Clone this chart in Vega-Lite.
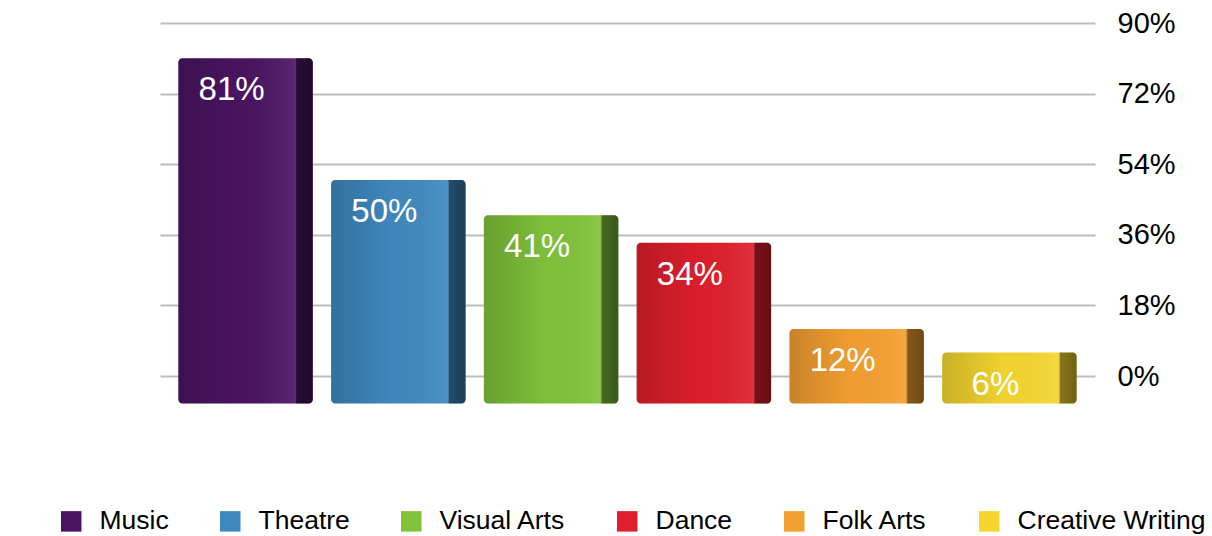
{
  "$schema": "https://vega.github.io/schema/vega-lite/v6.json",
  "autosize": {"type": "none"},
  "padding": {"left": 160, "top": 23, "right": 117, "bottom": 132.5},
  "width": 935,
  "height": 380.5,
  "background": "white",
  "config": {"view": {"stroke": null}, "font": "Liberation Sans"},
  "data": {"values": [
    {"category": "Music", "value": 81},
    {"category": "Theatre", "value": 50},
    {"category": "Visual Arts", "value": 41},
    {"category": "Dance", "value": 34},
    {"category": "Folk Arts", "value": 12},
    {"category": "Creative Writing", "value": 6}
  ]},
  "encoding": {
    "x": {"field": "category", "type": "nominal", "sort": null,
          "scale": {"paddingInner": 0.12, "paddingOuter": 0.12}, "axis": null},
    "y": {"field": "value", "type": "quantitative",
          "scale": {"domain": [-7, 90], "nice": false, "zero": false},
          "axis": {"orient": "right", "values": [0, 18, 36, 54, 72, 90],
                   "labelExpr": "datum.value + '%'", "labelFontSize": 29,
                   "labelColor": "#000000", "labelPadding": 22, "ticks": false,
                   "domain": false, "title": null, "grid": true,
                   "gridColor": "#bdbdbd", "gridWidth": 2, "labelFont": "Liberation Sans"}}
  },
  "layer": [
    {
      "mark": {"type": "bar", "cornerRadiusEnd": 4},
      "encoding": {
        "y2": {"datum": -7},
        "color": {"field": "category", "type": "nominal", "sort": null,
                  "scale": {"domain": ["Music", "Theatre", "Visual Arts", "Dance", "Folk Arts", "Creative Writing"],
                            "range": ["#4a1462", "#3f89c0", "#80c23a", "#de1f2c", "#f4a031", "#f5d62f"]},
                  "legend": {"orient": "none", "legendX": -102, "legendY": 485,
                             "direction": "horizontal", "title": null,
                             "symbolType": "square", "symbolSize": 420, "symbolStrokeWidth": 0,
                             "labelFontSize": 26.5, "labelOffset": 15, "columnPadding": 48,
                             "labelColor": "#000000", "labelFont": "Liberation Sans", "labelLimit": 400}}
      }
    },
    {
      "mark": {"type": "bar", "cornerRadiusEnd": 4,
               "color": {"gradient": "linear", "x1": 0, "x2": 1, "y1": 0, "y2": 0,
                         "stops": [
                           {"offset": 0, "color": "rgba(0,0,0,0.18)"},
                           {"offset": 0.45, "color": "rgba(0,0,0,0.02)"},
                           {"offset": 0.86, "color": "rgba(255,255,255,0.08)"},
                           {"offset": 0.88, "color": "rgba(0,0,0,0.45)"},
                           {"offset": 1, "color": "rgba(0,0,0,0.55)"}
                         ]}},
      "encoding": {"y2": {"datum": -7}}
    },
    {
      "mark": {"type": "text", "color": "white", "fontSize": 33, "dy": 32, "dx": -14,
               "baseline": "middle", "font": "Liberation Sans",
               "text": {"expr": "datum.value + '%'"}},
      "encoding": {"detail": {"field": "category"}}
    }
  ]
}
